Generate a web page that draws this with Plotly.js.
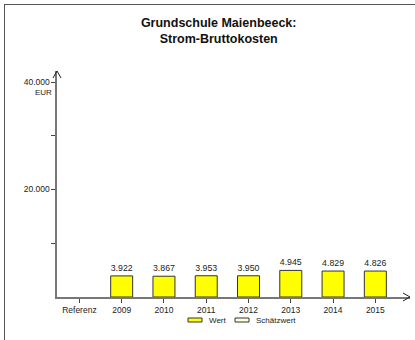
<!DOCTYPE html>
<html><head><meta charset="utf-8">
<script src="https://cdn.plot.ly/plotly-3.0.1.min.js"></script>
<style>html,body{margin:0;padding:0;background:#fff}#c{width:415px;height:340px}</style>
</head><body><div id="c"></div>
<script>
const categories = ['Referenz','2009','2010','2011','2012','2013','2014','2015'];
const wert = [null, 3922, 3867, 3953, 3950, 4945, 4829, 4826];
const schaetzwert = [null, null, null, null, null, null, null, null];
const seriesNames = ['Wert', 'Schätzwert'];
const seriesColors = ['#ffff00', '#ffffd8'];
const yTickVals = [10000, 20000, 30000, 40000];
const yTickText = ['', '20.000', '', '40.000'];

const W = 415, H = 340, L = 57, R = 5, T = 71, B = 43;
const pw = W - L - R, ph = H - T - B;
const px = x => (x - L) / pw;
const py = y => (H - B - y) / ph;

const font = 'Liberation Sans, Arial, sans-serif';
const traces = [
  {type:'bar', name:seriesNames[0], x:categories, y:wert, width:0.52,
   marker:{color:seriesColors[0], line:{color:'#333', width:1}},
   texttemplate:'%{y:,.0f}', textposition:'outside',
   textfont:{family:font, size:9, color:'#222'}, cliponaxis:false, hoverinfo:'none'},
  {type:'bar', name:seriesNames[1], x:categories, y:schaetzwert, width:0.52,
   marker:{color:seriesColors[1], line:{color:'#333', width:1}}, hoverinfo:'none'}
];

// custom legend (flat rectangles as in the reference)
const legendShapes = [], legendAnn = [];
const legX = [188, 235];
seriesNames.forEach((n, i) => {
  legendShapes.push({type:'rect', xref:'paper', yref:'paper',
    x0:px(legX[i]), x1:px(legX[i] + 14), y0:py(318), y1:py(322),
    fillcolor:seriesColors[i], line:{color:'#333', width:1}});
  legendAnn.push({xref:'paper', yref:'paper', x:px(legX[i] + 19), y:py(320.5), xanchor:'left', yanchor:'middle',
    text:n, showarrow:false, font:{size:8, color:'#222'}});
});

const layout = {
  width:W, height:H, margin:{l:L, r:R, t:T, b:B},
  separators:',.', barmode:'overlay',
  paper_bgcolor:'#fff', plot_bgcolor:'#fff',
  font:{family:font, size:8, color:'#222'},
  title:{text:'<b>Grundschule Maienbeeck:<br>Strom-Bruttokosten</b>', xref:'container', x:0.527, y:0.92, yanchor:'top',
         font:{family:font, size:12.5, color:'#111'}},
  xaxis:{type:'category', range:[-0.53, 7.82], showline:true, linecolor:'#777', linewidth:1.6,
         ticks:'outside', ticklen:4, tickcolor:'#444', tickfont:{size:8.5}, showgrid:false, zeroline:false, fixedrange:true},
  yaxis:{range:[0, 42050], tickvals:yTickVals, ticktext:yTickText, showline:true, linecolor:'#777', linewidth:1.6,
         ticks:'outside', ticklen:4, tickcolor:'#444', tickfont:{size:8.5}, showgrid:false, zeroline:false, fixedrange:true},
  showlegend:false,
  annotations:[
    {xref:'paper', x:0, yref:'y', y:40000, yshift:-10, xshift:-14, xanchor:'center', text:'EUR',
     showarrow:false, font:{size:8, color:'#222'}}
  ].concat(legendAnn),
  shapes:[
    {type:'line', xref:'paper', yref:'paper', x0:px(4), y0:py(4.5), x1:px(415), y1:py(4.5), line:{color:'#555', width:1}},
    {type:'line', xref:'paper', yref:'paper', x0:px(4.5), y0:py(4), x1:px(4.5), y1:py(340), line:{color:'#555', width:1}},
    {type:'path', xref:'paper', yref:'paper', path:`M ${px(403)} ${py(293)} L ${px(410)} ${py(297)} L ${px(403)} ${py(301)}`, line:{color:'#222', width:1}},
    {type:'path', xref:'paper', yref:'paper', path:`M ${px(53)} ${py(78)} L ${px(57)} ${py(71)} L ${px(61)} ${py(78)}`, line:{color:'#222', width:1}}
  ].concat(legendShapes)
};
Plotly.newPlot('c', traces, layout, {displayModeBar:false, staticPlot:true});
</script></body></html>
